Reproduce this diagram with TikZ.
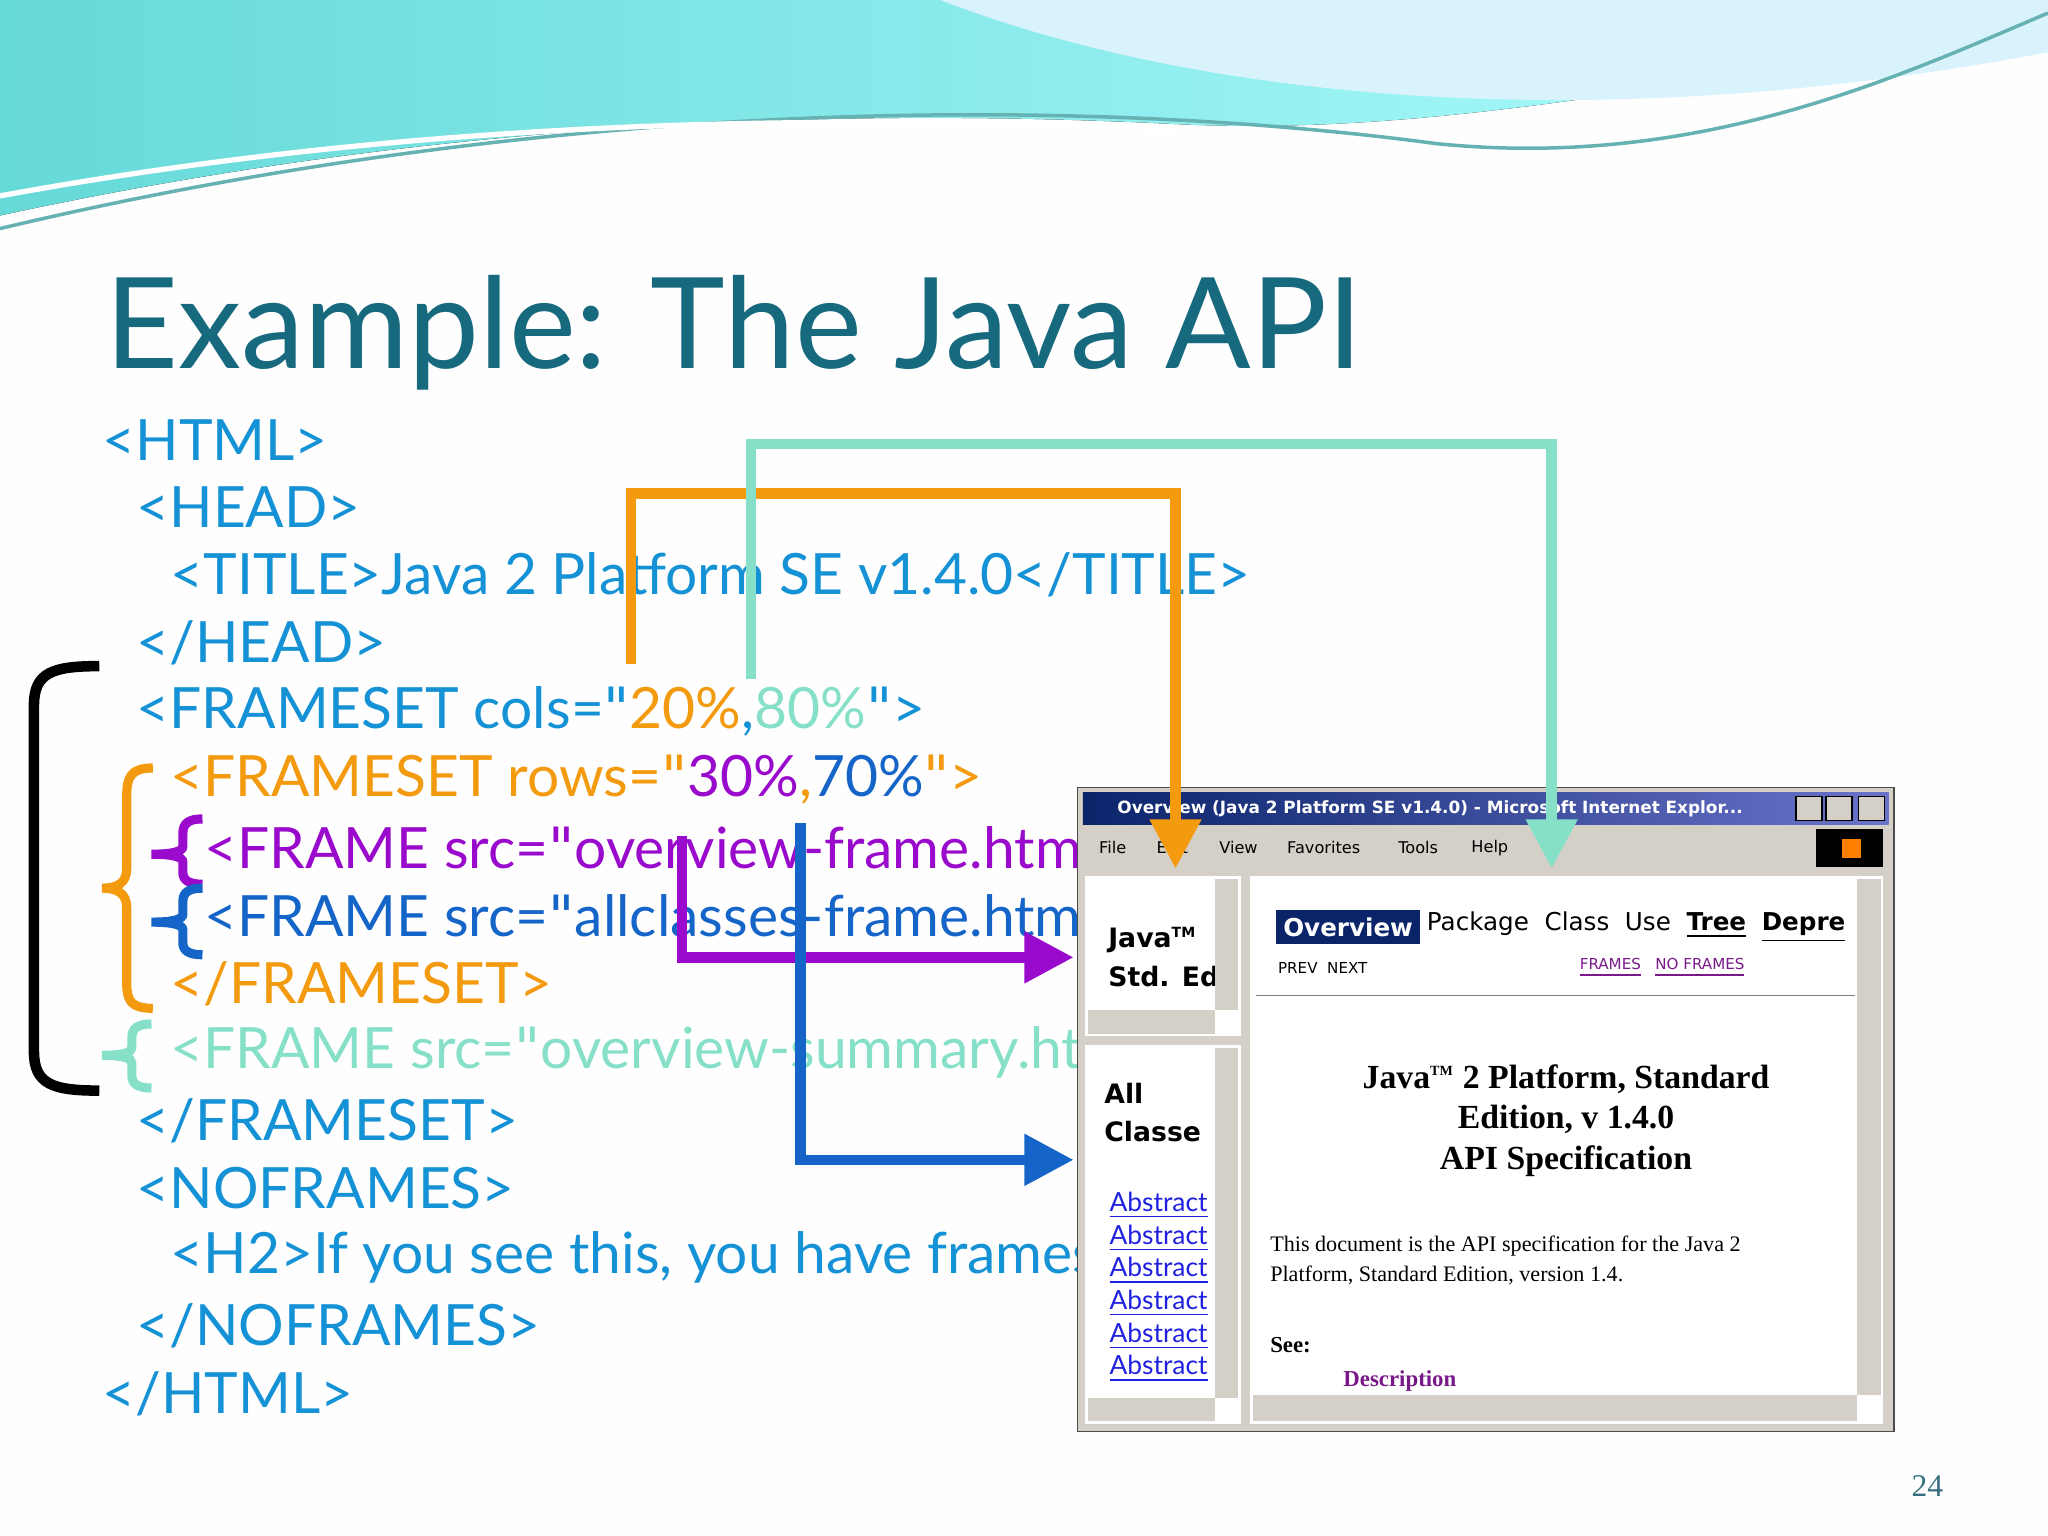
\documentclass[tikz,border=0pt]{standalone}
\usepackage{fontspec}
\setmainfont{Lato}
\newfontfamily\serif{Liberation Serif}
\newfontfamily\tahoma{DejaVu Sans}
\definecolor{ttl}{HTML}{17697E}
\definecolor{cb}{HTML}{1592D6}
\definecolor{co}{HTML}{F39A0E}
\definecolor{ct}{HTML}{86E0C8}
\definecolor{cp}{HTML}{9A0ACC}
\definecolor{cbl}{HTML}{1565C8}
\definecolor{win}{HTML}{D4D0C8}
\definecolor{navy}{HTML}{0A246A}
\definecolor{lnk}{HTML}{2020E0}
\definecolor{vis}{HTML}{7A1A8A}
\newcommand{\qq}{{\tahoma\symbol{34}}}
\tikzset{
 code/.style={anchor=west,inner sep=0pt,font=\fontsize{16.2}{17}\selectfont,text=cb},
 conn/.style={line width=3pt},
 tip/.style={-{Triangle[length=14pt,width=14pt]}},
 small/.style={anchor=west,inner sep=0pt,font=\tahoma\fontsize{4.6}{5}\selectfont},
 brace/.style={line width=2.6pt},
}
\usetikzlibrary{arrows.meta}
\begin{document}
\begin{tikzpicture}[x=0.013061cm,y=-0.013061cm]
\useasboundingbox (0,0) rectangle (1568,1176);
\fill[white!96!blue!4] (0,0) rectangle (1568,1176);
% top waves
\fill[left color=cyan!50!teal!60,right color=cyan!30] (0,0) -- (0,165) .. controls (300,100) and (600,80) .. (900,95) .. controls (1100,105) and (1300,60) .. (1568,20) -- (1568,0) -- cycle;
\fill[cyan!15!white] (720,0) .. controls (900,70) and (1200,110) .. (1568,40) -- (1568,0) -- cycle;
\draw[teal!60,line width=1pt] (0,175) .. controls (400,80) and (800,70) .. (1100,110) .. controls (1300,130) and (1450,60) .. (1568,10);
\draw[white,line width=1.5pt] (0,150) .. controls (300,95) and (600,85) .. (900,100);
% title
\node[anchor=west,inner sep=0pt,text=ttl,font=\fontsize{36}{36}\selectfont] (title) at (80,255) {Example: The Java API};
% code
\node[code] (l1) at (78,337) {<HTML>};
\node[code] (l2) at (104,388) {<HEAD>};
\node[code] (l3) at (130,440) {<TITLE>Java 2 Platform SE v1.4.0</TITLE>};
\node[code] (l4) at (104,492) {</HEAD>};
\node[code] (l5) at (104,545) {<FRAMESET cols=\qq\textcolor{co}{20\%},\textcolor{ct}{80\%}\qq>};
\node[code,text=co] (l6) at (130,597) {<FRAMESET rows=\qq\textcolor{cp}{30\%},\textcolor{cbl}{70\%}\qq>};
\node[code,text=cp] (l7) at (156,649) {<FRAME src=\qq overview-frame.html\qq>};
\node[code,text=cbl] (l8) at (156,701) {<FRAME src=\qq allclasses-frame.html\qq>};
\node[code,text=co] (l9) at (130,753) {</FRAMESET>};
\node[code,text=ct] (l10) at (130,806) {<FRAME src=\qq overview-summary.html\qq>};
\node[code] (l11) at (104,858) {</FRAMESET>};
\node[code] (l12) at (104,910) {<NOFRAMES>};
\node[code] (l13) at (130,963) {<H2>If you see this, you have frames off</H2>};
\node[code] (l14) at (104,1015) {</NOFRAMES>};
\node[code] (l15) at (78,1067) {</HTML>};
% brackets
\draw[line width=3pt,line join=round] (76,510) .. controls (40,510) and (26,515) .. (26,540) -- (26,805) .. controls (26,830) and (40,835) .. (76,835);
\draw[brace,co] (117,588) .. controls (100,588) and (97,595) .. (97,610) -- (97,665) .. controls (97,676) and (90,680) .. (78,680) .. controls (90,680) and (97,684) .. (97,695) -- (97,752) .. controls (97,766) and (100,772) .. (117,772);
\draw[brace,cp] (155,627) .. controls (145,627) and (140,630) .. (140,638) -- (140,648) .. controls (140,652) and (132,654) .. (116,654) .. controls (132,654) and (140,656) .. (140,660) -- (140,668) .. controls (140,674) and (145,677) .. (155,677);
\draw[brace,cbl] (155,680) .. controls (145,680) and (140,683) .. (140,690) -- (140,700) .. controls (140,704) and (132,706) .. (116,706) .. controls (132,706) and (140,708) .. (140,712) -- (140,722) .. controls (140,728) and (145,731) .. (155,731);
\draw[brace,ct] (116,784) .. controls (106,784) and (101,787) .. (101,794) -- (101,802) .. controls (101,806) and (94,808) .. (78,808) .. controls (94,808) and (101,810) .. (101,814) -- (101,824) .. controls (101,830) and (106,833) .. (116,833);
% browser window
\fill[win] (825,603) rectangle (1450,1096);
\draw[gray!60!black] (825,603) rectangle (1450,1096);
\fill[left color=navy,right color=blue!40!navy!60] (829,607) rectangle (1446,631);
\node[small,text=white,font=\tahoma\bfseries\fontsize{4.8}{5}\selectfont] (wt) at (855,619) {Overview (Java 2 Platform SE v1.4.0) - Microsoft Internet Explor...};
\foreach \i/\x in {a/1375,b/1398,c/1423}{\fill[win] (\x,610) rectangle ++(20,18); \draw[black] (\x,610) rectangle ++(20,18);}
\node[small] (m1) at (841,649) {File};
\node[small] (m2) at (885,649) {Edit};
\node[small] (m3) at (933,649) {View};
\node[small] (m4) at (985,649) {Favorites};
\node[small] (m5) at (1070,649) {Tools};
\node[small] (m6) at (1126,649) {Help};
\fill[black] (1390,635) rectangle (1442,664);
\fill[orange] (1410,642) rectangle (1425,657);
% left frames
\fill[white] (831,671) rectangle (950,793);
\fill[white] (831,800) rectangle (950,1090);
\fill[win] (930,673) rectangle (948,773);
\fill[win] (833,773) rectangle (930,792);
\fill[win] (930,802) rectangle (948,1070);
\fill[win] (833,1070) rectangle (930,1088);
\node[anchor=west,inner sep=0pt,font=\tahoma\bfseries\fontsize{7.6}{8}\selectfont] (j1) at (848,720) {Java\textsuperscript{\fontsize{4}{4}\selectfont TM}};
\node[anchor=west,inner sep=0pt,font=\tahoma\bfseries\fontsize{7.6}{8}\selectfont] (j2) at (848,748) {Std. Ed};
\fill[win] (930,673) rectangle (948,773);
\node[anchor=west,inner sep=0pt,font=\tahoma\bfseries\fontsize{7.6}{8}\selectfont] (a1) at (845,837) {All};
\node[anchor=west,inner sep=0pt,font=\tahoma\bfseries\fontsize{7.6}{8}\selectfont] (a2) at (845,866) {Classe};
\foreach \y in {923,948,973,998,1023,1048}{\node[anchor=west,inner sep=0pt,text=lnk,font=\fontsize{7.5}{8}\selectfont] at (849,\y) {\underline{Abstract}};}
\fill[win] (930,1048) rectangle (948,1070);
% right frame
\fill[white] (957,671) rectangle (1442,1090);
\fill[win] (1422,673) rectangle (1440,1068);
\fill[win] (959,1068) rectangle (1422,1088);
\fill[navy] (977,697) rectangle (1087,723);
\node[anchor=west,inner sep=0pt,text=white,font=\tahoma\bfseries\fontsize{7}{7}\selectfont] (ov) at (982,710) {Overview};
\node[anchor=west,inner sep=0pt,font=\tahoma\fontsize{7}{7}\selectfont] (pk) at (1092,710) {Package \ Class \ Use \ \textbf{\underline{Tree}} \ \textbf{\underline{Depre}}};
\node[small,font=\tahoma\fontsize{4.3}{5}\selectfont] (pn) at (978,741) {PREV \ NEXT};
\node[small,text=vis,font=\tahoma\fontsize{4.3}{5}\selectfont] (fr) at (1209,741) {\underline{FRAMES} \ \ \underline{NO FRAMES}};
\draw[gray] (962,762) -- (1420,762);
\node[align=center,inner sep=0pt,font=\serif\bfseries\fontsize{9.6}{11.6}\selectfont] (hd) at (1199,858) {Java\textsuperscript{\fontsize{4}{4}\selectfont TM} 2 Platform, Standard\\Edition, v 1.4.0\\API Specification};
\node[anchor=west,align=left,inner sep=0pt,font=\serif\fontsize{6.3}{8.7}\selectfont] (bd) at (972,965) {This document is the API specification for the Java 2\\Platform, Standard Edition, version 1.4.};
\node[anchor=west,inner sep=0pt,font=\serif\bfseries\fontsize{6.5}{7}\selectfont] (see) at (972,1030) {See:};
\node[anchor=west,inner sep=0pt,text=vis,font=\serif\bfseries\fontsize{6.5}{7}\selectfont] (desc) at (1028,1057) {Description};
% connectors
\coordinate (os) at (483,508); \coordinate (oe) at (900,665);
\coordinate (ts) at (575,520); \coordinate (te) at (1188,665);
\coordinate (ps) at (522,640); \coordinate (pe) at (822,733);
\coordinate (bs) at (613,630); \coordinate (be) at (822,888);
\draw[conn,co,tip] (os) |- (700,378) -| (oe);
\draw[conn,ct,tip] (ts) |- (900,340) -| (te);
\draw[conn,cp,tip] (ps) |- (pe);
\draw[conn,cbl,tip] (bs) |- (be);
\node[anchor=west,inner sep=0pt,text=ttl!70!gray,font=\serif\fontsize{9}{9}\selectfont] (pg) at (1463,1138) {24};
\end{tikzpicture}
\end{document}
